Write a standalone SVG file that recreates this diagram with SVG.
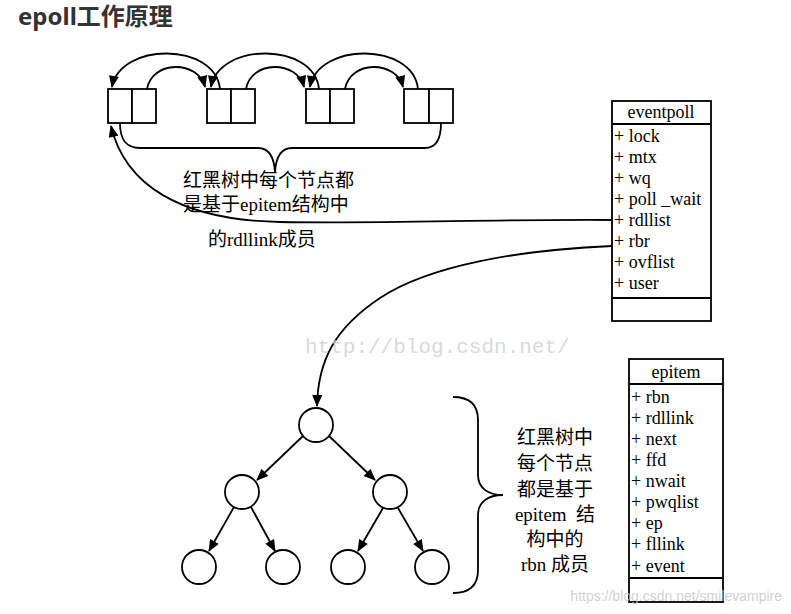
<svg xmlns="http://www.w3.org/2000/svg" width="791" height="614" viewBox="0 0 791 614">
<defs>
<marker id="ah" viewBox="0 0 12 10" refX="11" refY="5" markerWidth="13" markerHeight="10" markerUnits="userSpaceOnUse" orient="auto">
<path d="M0,0 L12,5 L0,10 Z" fill="#000"/>
</marker>
</defs>
<style>
.ln{fill:none;stroke:#000;stroke-width:1.8}
.bx{fill:#fff;stroke:#000;stroke-width:1.8}
.arr{fill:none;stroke:#000;stroke-width:1.8;marker-end:url(#ah)}
.t{font-family:"Liberation Serif","Noto Sans CJK SC",serif;font-size:18px;fill:#000}
.c{font-family:"Liberation Serif","Noto Sans CJK SC",serif;font-size:19px;fill:#000}
</style>
<rect width="791" height="614" fill="#fff"/>
<text x="18" y="25" font-family="'Noto Sans','Noto Sans CJK SC',sans-serif" font-size="24" font-weight="bold" fill="#333">epoll工作原理</text>

<g id="list1"><rect class="bx" x="108" y="89" width="24" height="34"/><rect class="bx" x="132" y="89" width="24" height="34"/></g>
<g id="list2"><rect class="bx" x="207" y="89" width="24" height="34"/><rect class="bx" x="231" y="89" width="24" height="34"/></g>
<g id="list3"><rect class="bx" x="306" y="89" width="24" height="34"/><rect class="bx" x="330" y="89" width="24" height="34"/></g>
<g id="list4"><rect class="bx" x="404" y="89" width="25" height="34"/><rect class="bx" x="429" y="89" width="24" height="34"/></g>

<g id="eventpoll">
<rect class="bx" x="612" y="101" width="99" height="220"/>
<line class="ln" x1="612" y1="124" x2="711" y2="124"/>
<line class="ln" x1="612" y1="298" x2="711" y2="298"/>
<text class="t" x="661" y="118" text-anchor="middle">eventpoll</text>
<text class="t" x="614" y="142">+ lock</text>
<text class="t" x="614" y="163">+ mtx</text>
<text class="t" x="614" y="184">+ wq</text>
<text class="t" x="614" y="205">+ poll _wait</text>
<text class="t" x="614" y="226">+ rdllist</text>
<text class="t" x="614" y="247">+ rbr</text>
<text class="t" x="614" y="268">+ ovflist</text>
<text class="t" x="614" y="289">+ user</text>
</g>

<g id="epitem">
<rect class="bx" x="629" y="359" width="94" height="243"/>
<line class="ln" x1="629" y1="384" x2="723" y2="384"/>
<line class="ln" x1="629" y1="578" x2="723" y2="578"/>
<text class="t" x="676" y="378" text-anchor="middle">epitem</text>
<text class="t" x="631" y="403">+ rbn</text>
<text class="t" x="631" y="424">+ rdllink</text>
<text class="t" x="631" y="445">+ next</text>
<text class="t" x="631" y="466">+ ffd</text>
<text class="t" x="631" y="487">+ nwait</text>
<text class="t" x="631" y="508">+ pwqlist</text>
<text class="t" x="631" y="529">+ ep</text>
<text class="t" x="631" y="550">+ fllink</text>
<text class="t" x="631" y="572">+ event</text>
</g>

<g id="tree">
<circle class="bx" cx="316" cy="425" r="17"/>
<circle class="bx" cx="242" cy="492" r="17"/>
<circle class="bx" cx="390" cy="492" r="17"/>
<circle class="bx" cx="199" cy="567" r="17"/>
<circle class="bx" cx="283" cy="567" r="17"/>
<circle class="bx" cx="348" cy="567" r="17"/>
<circle class="bx" cx="432" cy="567" r="17"/>
</g>

<g id="label-list">
<text class="c" x="183" y="187">红黑树中每个节点都</text>
<text class="c" x="183" y="211">是基于epitem结构中</text>
<text class="c" x="208" y="246">的rdllink成员</text>
</g>

<g id="label-tree" text-anchor="middle">
<text class="c" x="555" y="444">红黑树中</text>
<text class="c" x="555" y="470">每个节点</text>
<text class="c" x="555" y="496">都是基于</text>
<text class="c" x="555" y="521" xml:space="preserve">epitem  结</text>
<text class="c" x="555" y="546">构中的</text>
<text class="c" x="555" y="571">rbn 成员</text>
</g>

<g id="connectors">
<path class="arr" d="M147,89 C152,60 198,60 205,87"/>
<path class="arr" d="M246,89 C251,60 297,60 304,87"/>
<path class="arr" d="M345,89 C350,60 396,60 403,87"/>
<path class="arr" d="M220,89 C215,42 120,42 112,87"/>
<path class="arr" d="M319,89 C314,42 219,42 211,87"/>
<path class="arr" d="M418,89 C413,42 318,42 310,87"/>
<path class="ln" d="M120,123 C120,140 126,148 140,148 L258,148 C268,148 274,156 275,172 C276,156 282,148 292,148 L425,148 C436,148 441,140 441,123"/>
<path class="ln" d="M453,397 C470,397 478,405 478,420 L478,475 C478,488 488,495 503,495 C488,495 478,502 478,515 L478,570 C478,585 470,593 453,593"/>
<path class="arr" d="M612,220 C500,219 380,224 280,222 C180,220 125,185 111,126"/>
<path class="arr" d="M612,246 C520,250 430,265 380,298 C335,328 318,360 317,406"/>
<path class="arr" d="M303,436 L257,480"/>
<path class="arr" d="M329,436 L375,480"/>
<path class="arr" d="M234,507 L209,551"/>
<path class="arr" d="M251,507 L275,551"/>
<path class="arr" d="M383,508 L358,551"/>
<path class="arr" d="M398,508 L423,551"/>
</g>

<text x="305" y="353" font-family="'Liberation Mono',monospace" font-size="21" fill="#d2d2d2" fill-opacity="0.85">http://blog.csdn.net/</text>
<text x="782" y="601" text-anchor="end" font-family="'Liberation Sans',sans-serif" font-size="14" fill="#c8c8c8" fill-opacity="0.85">https://blog.csdn.net/smilevampire</text>
</svg>
